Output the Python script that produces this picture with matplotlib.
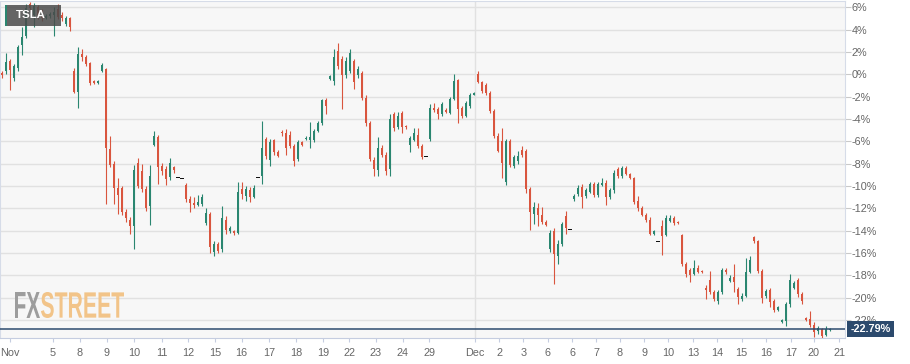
import numpy as np
import matplotlib.pyplot as plt
import matplotlib.transforms as mtransforms
from matplotlib.patches import Rectangle, PathPatch
from matplotlib.textpath import TextPath
from matplotlib.font_manager import FontProperties

plt.rcParams['font.family'] = ['Liberation Sans', 'DejaVu Sans']

# TSLA change in %, one candle per slot (open, high, low, close)
opens = [0.1, 0.3, 1.2, -0.3, 0.6, 2.6, 3.4, 6.3, 5.3, 6.0,
         5.3, 5.0, 5.2, 5.3, 5.8, 5.3, 4.5, 5.0, 0.3, -1.6,
         1.8, 1.5, 1.0, -0.6, -0.8, 0.3, 0.5, -6.7, -8.0, -10.2,
         -10.2, -12.3, -13.0, -13.6, -7.9, -8.7, -10.3, -11.8, -6.3, -5.6,
         -8.2, -8.5, -9.2, -8.3, -9.2, -9.3, -9.9, -11.2, -11.5, -11.7,
         -11.6, -13.3, -12.5, -15.9, -15.2, -15.6, -13.0, -14.0, -14.0, -14.2,
         -10.3, -10.9, -10.4, -11.0, -9.2, -9.1, -5.8, -7.7, -5.9, -7.0,
         -5.2, -5.3, -5.4, -6.4, -7.6, -6.1, -5.8, -5.9, -5.9, -5.1,
         -4.4, -2.3, -0.4, -0.6, 2.1, 1.4, -0.1, 0.3, 1.2, -0.1,
         0.1, -2.1, -4.4, -7.7, -8.6, -6.6, -7.2, -8.5, -3.6, -4.7,
         -3.5, -4.6, -6.3, -5.9, -5.4, -6.4, -7.4, -5.8, -3.0, -3.1,
         -3.6, -3.2, -3.5, -2.2, -0.5, -3.0, -3.7, -2.8, -1.9, 0.0,
         -0.7, -1.0, -1.7, -3.3, -5.5, -6.0, -9.6, -6.0, -8.2, -7.8,
         -6.8, -6.9, -10.3, -12.5, -12.0, -12.6, -13.2, -15.6, -14.0, -16.3,
         -15.2, -12.7, -13.9, -11.2, -10.7, -10.1, -10.9, -10.5, -9.8, -10.8,
         -9.9, -9.7, -11.0, -10.4, -8.5, -9.1, -8.4, -8.9, -9.3, -11.3,
         -12.0, -12.6, -13.0, -14.3, -15.0, -13.6, -14.4, -13.1, -12.9, -13.2,
         -14.4, -17.0, -17.5, -17.9, -17.3, -17.6, -19.1, -18.4, -19.5, -20.3,
         -19.5, -17.5, -18.5, -18.1, -19.2, -20.1, -19.8, -17.7, -14.6, -14.9,
         -17.6, -19.8, -19.3, -20.3, -21.1, -22.2, -22.1, -20.6, -19.1, -18.4,
         -19.7, -21.8, -21.9, -22.4, -23.0, -22.8, -23.3, -22.9]

highs = [0.3, 1.9, 1.4, 0.9, 2.6, 4.2, 6.3, 6.5, 6.4, 6.2,
         5.8, 5.4, 5.6, 6.0, 6.3, 5.6, 5.2, 5.1, 0.6, 2.4,
         2.3, 1.7, 1.1, -0.5, -0.5, 1.0, 0.6, -5.5, -7.8, -9.3,
         -10.0, -12.1, -12.8, -8.1, -7.5, -8.0, -10.0, -8.1, -5.1, -5.4,
         -7.9, -8.2, -7.5, -8.2, -9.2, -9.3, -9.7, -10.9, -11.0, -10.8,
         -10.7, -12.0, -12.3, -14.9, -15.0, -11.8, -12.7, -13.6, -13.9, -9.6,
         -9.6, -10.0, -10.1, -9.9, -9.2, -4.2, -5.6, -5.8, -5.8, -6.8,
         -5.0, -4.9, -5.1, -6.2, -5.9, -6.0, -5.5, -4.3, -4.9, -4.2,
         -2.2, -2.1, -0.1, 2.3, 2.8, 1.6, 1.5, 2.3, 1.4, 0.7,
         0.3, -1.9, -4.2, -7.4, -5.6, -6.3, -7.0, -3.6, -3.4, -3.4,
         -3.3, -4.5, -5.5, -4.8, -4.8, -6.2, -7.4, -2.7, -2.6, -2.9,
         -2.5, -3.0, -2.0, 0.0, -0.4, -2.8, -2.4, -1.7, -1.6, 0.3,
         -0.6, -0.8, -1.5, -3.1, -5.3, -4.8, -5.8, -5.8, -7.2, -6.9,
         -6.4, -6.7, -10.1, -11.4, -11.5, -11.9, -13.0, -13.9, -13.8, -14.8,
         -13.2, -12.2, -13.9, -10.7, -9.9, -9.8, -10.2, -9.6, -9.6, -9.6,
         -9.3, -9.5, -10.2, -8.6, -8.3, -8.2, -8.2, -8.8, -9.2, -10.9,
         -11.8, -12.4, -12.8, -13.9, -15.0, -13.0, -12.6, -12.6, -12.7, -13.1,
         -14.3, -16.8, -17.3, -16.6, -17.1, -17.5, -18.9, -17.6, -19.3, -19.3,
         -17.3, -17.3, -18.0, -17.0, -19.0, -19.6, -16.4, -16.3, -14.5, -14.8,
         -17.4, -19.2, -19.1, -20.1, -20.7, -21.9, -20.4, -17.9, -18.5, -18.2,
         -19.5, -21.7, -21.2, -22.2, -22.5, -22.7, -22.5, -22.7]

lows = [-0.3, 0.0, -1.4, -0.6, 0.3, 1.7, 3.2, 5.6, 4.2, 4.9,
        4.8, 4.9, 5.0, 3.4, 4.9, 4.8, 4.3, 3.9, -1.7, -3.0,
        1.2, 0.7, -1.0, -0.9, -0.9, 0.2, -11.6, -8.3, -11.6, -12.5,
        -12.6, -13.2, -14.3, -15.6, -10.2, -10.5, -12.2, -13.5, -6.4, -9.8,
        -9.0, -9.9, -9.5, -8.8, -9.2, -9.3, -11.4, -12.3, -12.0, -11.8,
        -11.8, -13.5, -16.0, -16.3, -16.0, -15.9, -14.3, -14.2, -14.4, -14.3,
        -11.2, -11.3, -11.4, -11.1, -9.2, -9.8, -7.6, -8.2, -7.2, -7.4,
        -5.5, -7.2, -6.6, -8.2, -7.8, -6.4, -5.9, -6.6, -6.1, -5.2,
        -4.5, -3.6, -0.5, -1.0, 0.5, -3.1, -0.3, 0.1, -1.3, -0.3,
        -2.3, -4.6, -7.8, -9.1, -9.1, -7.4, -9.0, -9.1, -5.1, -4.9,
        -5.3, -4.9, -7.0, -6.0, -6.6, -7.6, -7.4, -6.0, -3.4, -4.0,
        -3.7, -3.5, -3.6, -2.3, -4.4, -3.9, -3.8, -3.0, -1.9, -0.8,
        -1.7, -1.9, -3.5, -5.7, -7.0, -9.3, -9.9, -8.3, -8.4, -8.0,
        -7.4, -10.6, -13.9, -13.4, -13.6, -13.4, -13.6, -15.9, -18.8, -17.0,
        -15.4, -14.3, -13.9, -11.3, -10.9, -12.0, -11.1, -10.6, -11.0, -11.0,
        -10.0, -11.7, -11.2, -10.6, -9.3, -9.3, -9.0, -9.4, -11.6, -12.2,
        -12.7, -13.2, -14.4, -14.4, -15.0, -16.2, -14.5, -13.2, -13.5, -13.4,
        -17.2, -18.1, -18.6, -18.0, -17.8, -17.8, -20.1, -19.7, -20.3, -20.6,
        -19.7, -17.9, -18.6, -19.5, -20.6, -20.3, -19.9, -17.8, -15.1, -17.8,
        -20.5, -20.0, -20.8, -21.3, -21.2, -22.3, -22.5, -20.8, -19.2, -19.9,
        -20.6, -22.1, -22.6, -23.5, -23.2, -23.6, -23.4, -23.0]

closes = [-0.1, 1.1, 0.4, 0.7, 2.4, 3.3, 5.9, 5.9, 6.1, 5.1,
          5.0, 5.2, 5.4, 5.6, 5.1, 5.0, 5.0, 4.2, -1.6, 1.8,
          1.5, 0.9, -0.8, -0.8, -0.6, 0.8, -6.6, -8.1, -10.2, -10.8,
          -12.3, -12.9, -13.6, -8.6, -10.0, -10.3, -12.0, -9.1, -5.5, -8.3,
          -8.7, -9.4, -7.9, -8.6, -9.2, -9.3, -11.2, -11.5, -11.7, -11.4,
          -11.0, -12.4, -15.5, -15.2, -15.8, -12.9, -13.9, -13.8, -14.2, -10.5,
          -10.7, -10.3, -11.0, -10.2, -9.2, -6.6, -7.3, -6.1, -7.0, -7.3,
          -5.3, -6.6, -6.4, -7.8, -6.1, -6.3, -5.7, -5.6, -5.1, -4.4,
          -2.3, -2.8, -0.2, 1.5, 0.7, -0.1, 1.2, 1.9, -0.7, 0.5,
          -2.1, -4.4, -7.6, -8.5, -6.6, -7.2, -8.7, -4.0, -4.8, -3.7,
          -4.7, -4.7, -5.7, -5.3, -6.4, -7.4, -7.4, -3.0, -3.2, -3.6,
          -2.7, -3.4, -2.2, -0.6, -3.1, -3.7, -2.6, -1.9, -1.7, -0.7,
          -1.5, -1.7, -3.3, -5.5, -6.9, -7.9, -6.0, -8.1, -7.4, -7.3,
          -7.2, -10.3, -12.3, -11.9, -12.6, -13.2, -13.5, -14.2, -16.1, -15.2,
          -13.4, -13.8, -13.9, -10.9, -10.2, -11.0, -10.4, -9.8, -10.8, -9.8,
          -9.7, -11.0, -10.4, -8.8, -9.1, -8.4, -8.9, -9.3, -11.4, -12.0,
          -12.6, -13.0, -14.3, -14.0, -15.0, -14.5, -12.9, -12.9, -13.3, -13.3,
          -17.0, -17.9, -18.0, -17.3, -17.7, -17.7, -19.3, -19.5, -20.1, -19.5,
          -17.5, -17.7, -18.2, -18.6, -19.9, -19.8, -17.7, -16.6, -14.9, -17.6,
          -20.0, -19.4, -20.4, -21.1, -20.8, -22.0, -20.6, -18.4, -18.7, -19.7,
          -20.3, -22.0, -22.4, -23.1, -22.7, -23.4, -22.8, -22.79]

last_value = -22.79
symbol = 'TSLA'

# date labels along the bottom, at candle-slot positions
date_labels = ['Nov', '5', '8', '9', '10', '11', '12', '15', '16', '17', '18', '19',
               '22', '23', '24', '29', 'Dec', '2', '3', '6', '6', '7', '8', '9', '10',
               '13', '14', '15', '16', '17', '20', '21']
date_pos = [2.0, 12.75, 19.5, 26.25, 33.0, 40.0, 46.5, 53.25, 59.9, 66.75, 73.5, 80.2,
            86.75, 93.4, 100.2, 106.8, 118.25, 124.3, 130.3, 136.4, 142.6, 148.5, 154.5,
            160.6, 166.6, 172.8, 178.8, 184.9, 191.0, 197.2, 203.0, 209.3]
pct_ticks = list(range(-22, 7, 2))

GREEN = '#2a8670'
RED = '#d9553e'
NAVY = '#2c4a6d'

o = np.array(opens)
h = np.array(highs)
l = np.array(lows)
c = np.array(closes)
x = np.arange(len(c))

fig = plt.figure(figsize=(9.1, 3.64), dpi=100)
ax = fig.add_axes([0, 26 / 364, 845 / 910, 337.5 / 364])
ax.set_facecolor('#f7f7f7')

cols = np.where(c > o, GREEN, np.where(c < o, RED, '#111111'))
flat = c == o

ax.vlines(x[~flat], l[~flat], h[~flat], colors=cols[~flat], lw=0.8, zorder=3)
body_h = np.maximum(np.abs(c - o), 0.09)
body_b = np.where(flat, o - 0.045, np.minimum(o, c))
widths = np.where(flat, 1.1, 0.62)
ax.bar(x, body_h, width=widths, bottom=body_b, color=cols, lw=0, zorder=3)

# grid
ax.set_yticks(pct_ticks)
ax.set_yticklabels([f'{v}%' for v in pct_ticks])
ax.grid(axis='y', color='#e1e1e1', lw=1)
ax.set_axisbelow(True)
ax.axvline(date_pos[date_labels.index('Dec')], color='#e1e1e1', lw=1, zorder=0.5)

ax.set_xlim(-0.5, 210.75)
ax.set_ylim(-23.6, 6.6)

ax.yaxis.tick_right()
ax.tick_params(axis='y', length=4, color='#c9c9c9', labelsize=7.8,
               labelcolor='#666666', pad=1)
ax.set_xticks(date_pos)
ax.set_xticklabels(date_labels)
ax.tick_params(axis='x', length=3, color='#c5cde0', labelsize=7.8,
               labelcolor='#666666', pad=4)

for side in ['top', 'left', 'right']:
    ax.spines[side].set_color('#d6dce8')
ax.spines['bottom'].set_color('#c5cde0')

# last value line and badge
ax.axhline(last_value, color=NAVY, lw=1.1, zorder=4)
trans = mtransforms.blended_transform_factory(ax.transAxes, ax.transData)
ax.text(1.0068, last_value, f'{last_value:.2f}%', transform=trans, ha='left',
        va='center', color='white', fontsize=7.8, fontweight='bold', zorder=6,
        bbox=dict(boxstyle='square,pad=0.3', fc=NAVY, ec='none'), clip_on=False)

# symbol tag
fig.add_artist(Rectangle((5 / 910, 1 - 26 / 364), 56 / 910, 21 / 364,
                         transform=fig.transFigure, fc='#4b4b4b', alpha=0.85,
                         ec='none', zorder=5))
fig.add_artist(Rectangle((5 / 910, 1 - 26 / 364), 2 / 910, 21 / 364,
                         transform=fig.transFigure, fc=GREEN, ec='none', zorder=6))
fig.text(16 / 910, 1 - 15.5 / 364, symbol, color='white', fontsize=8.2,
         fontweight='bold', ha='left', va='center', zorder=7)

# watermark
fp = FontProperties(family='Liberation Sans', weight='bold')
for word, x0, w, col in [('FX', 15, 25, '#9d9d9d'), ('STREET', 41, 83, '#f2c489')]:
    tp = TextPath((0, 0), word, size=100, prop=fp)
    ext = tp.get_extents()
    tr = (mtransforms.Affine2D()
          .translate(-ext.x0, -ext.y0)
          .scale(w / ext.width, 26 / ext.height)
          .translate(x0, 364 - 318))
    fig.add_artist(PathPatch(tp, transform=tr, fc=col, ec='none', zorder=1))

fig.savefig('out.png', dpi=100, facecolor='white')
